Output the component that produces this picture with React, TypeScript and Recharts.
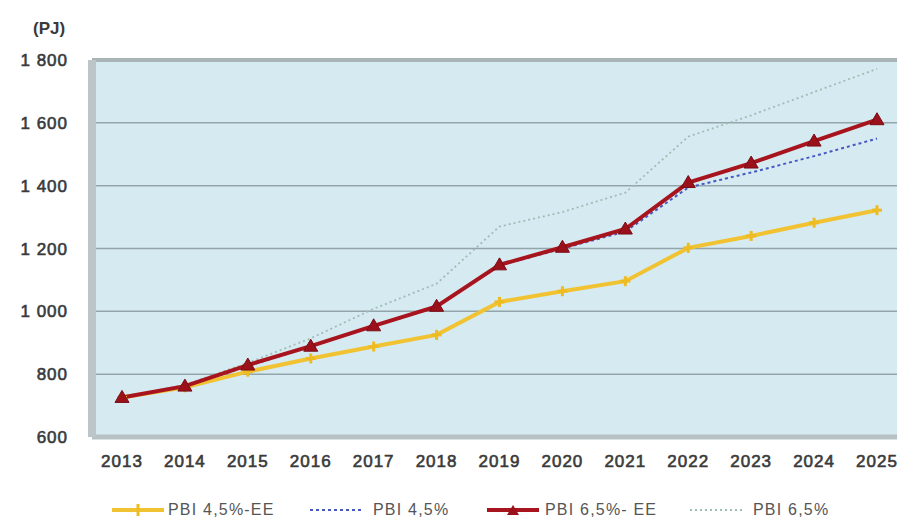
import { LineChart, Line, XAxis, YAxis, CartesianGrid, ReferenceLine, Legend } from "recharts";

const years = ["2013", "2014", "2015", "2016", "2017", "2018", "2019", "2020", "2021", "2022", "2023", "2024", "2025"];
const pbi45EE = [726, 758, 808, 850, 888, 925, 1030, 1064, 1096, 1202, 1240, 1282, 1322];
const pbi45 = [726, 762, 826, 888, 952, 1014, 1146, 1200, 1254, 1394, 1442, 1494, 1550];
const pbi65EE = [726, 762, 829, 889, 954, 1016, 1148, 1204, 1262, 1410, 1472, 1542, 1610];
const pbi65 = [726, 766, 836, 914, 1008, 1088, 1270, 1316, 1378, 1556, 1624, 1698, 1772];
const yTicks = [600, 800, 1000, 1200, 1400, 1600, 1800];

const data = years.map((year, i) => ({
    year,
    pbi45EE: pbi45EE[i],
    pbi45: pbi45[i],
    pbi65EE: pbi65EE[i],
    pbi65: pbi65[i],
}));

const fmt = (v: number) => (v >= 1000 ? `${Math.floor(v / 1000)} ${String(v % 1000).padStart(3, "0")}` : String(v));

const tickStyle = {
    fontFamily: "'Liberation Sans', Arial, sans-serif",
    fontSize: 17,
    fontWeight: 400,
    fill: "#3a3a3a",
    stroke: "#3a3a3a",
    strokeWidth: 0.6,
    letterSpacing: 1,
};

const YELLOW = "#F1C232";
const RED = "#A8141E";
const BLUE = "#4758C0";
const GREY = "#9FBDB3";

const Triangle = (props: any) => {
    const { cx, cy } = props;
    if (cx == null || cy == null) return null;
    return <path d={`M${cx},${cy - 7} L${cx + 7},${cy + 5} L${cx - 7},${cy + 5} Z`} fill="#9A111B" stroke="#7a0c14" strokeWidth={1} />;
};

const Plus = (props: any) => {
    const { cx, cy } = props;
    if (cx == null || cy == null) return null;
    return (
        <g stroke="#EDBB22" strokeWidth={3}>
            <line x1={cx - 5} y1={cy} x2={cx + 5} y2={cy} />
            <line x1={cx} y1={cy - 5} x2={cx} y2={cy + 5} />
        </g>
    );
};

const legendItems = [
    { label: "PBI 4,5%-EE", left: 112, text: 168, color: YELLOW, width: 4, dash: undefined, mark: "plus" },
    { label: "PBI 4,5%", left: 310, text: 373, color: BLUE, width: 2, dash: "3 3", mark: "" },
    { label: "PBI 6,5%- EE", left: 487, text: 545, color: RED, width: 4, dash: undefined, mark: "tri" },
    { label: "PBI 6,5%", left: 690, text: 753, color: GREY, width: 2, dash: "2 3", mark: "" },
];

const ChartLegend = () => (
    <div style={{ position: "relative", width: 904, height: 24 }}>
        {legendItems.map((it) => (
            <div key={it.label}>
                <svg style={{ position: "absolute", left: it.left, top: 2 }} width={54} height={20}>
                    <line x1={0} y1={10} x2={52} y2={10} stroke={it.color} strokeWidth={it.width} strokeDasharray={it.dash} />
                    {it.mark === "plus" && <line x1={26} y1={4} x2={26} y2={16} stroke="#EDBB22" strokeWidth={3} />}
                    {it.mark === "tri" && <path d="M26,5 L32,15 L20,15 Z" fill="#9A111B" />}
                </svg>
                <span
                    style={{
                        position: "absolute",
                        left: it.text,
                        top: 0,
                        fontFamily: "'Liberation Sans', Arial, sans-serif",
                        fontSize: 16,
                        letterSpacing: 1.2,
                        color: "#555",
                        lineHeight: "24px",
                        whiteSpace: "nowrap",
                    }}
                >
                    {it.label}
                </span>
            </div>
        ))}
    </div>
);

export default function App() {
    return (
        <div style={{ position: "absolute", left: 0, top: 0, width: 904, height: 522, background: "#fff" }}>
            <div
                style={{
                    position: "absolute",
                    left: 33,
                    top: 19,
                    fontFamily: "'Liberation Sans', Arial, sans-serif",
                    fontWeight: 700,
                    fontSize: 17,
                    color: "#3a3a3a",
                }}
            >
                (PJ)
            </div>
            <LineChart width={904} height={522} data={data} margin={{ top: 60, right: 7, bottom: 0, left: 0 }}>
                <CartesianGrid vertical={false} fill="#D6EAF2" stroke="#93A5AA" strokeWidth={1.5} />
                <XAxis
                    dataKey="year"
                    padding={{ left: 30, right: 20 }}
                    height={85}
                    tickLine={false}
                    tickSize={0}
                    tickMargin={18}
                    axisLine={{ stroke: "#B7C1C4", strokeWidth: 5 }}
                    tick={tickStyle}
                    interval={0}
                />
                <YAxis
                    width={92}
                    domain={[600, 1800]}
                    ticks={yTicks}
                    tickFormatter={fmt}
                    tickLine={false}
                    tickSize={0}
                    tickMargin={24}
                    axisLine={{ stroke: "#BCC5C8", strokeWidth: 8 }}
                    tick={tickStyle}
                />
                <ReferenceLine y={1800} stroke="#A9B4B7" strokeWidth={4} />
                <Line dataKey="pbi65" name="PBI 6,5%" stroke={GREY} strokeWidth={1.8} strokeDasharray="2 3" dot={false} isAnimationActive={false} />
                <Line dataKey="pbi45" name="PBI 4,5%" stroke={BLUE} strokeWidth={2} strokeDasharray="3 3" dot={false} isAnimationActive={false} />
                <Line dataKey="pbi45EE" name="PBI 4,5%-EE" stroke={YELLOW} strokeWidth={4} dot={<Plus />} isAnimationActive={false} />
                <Line dataKey="pbi65EE" name="PBI 6,5%- EE" stroke={RED} strokeWidth={4} dot={<Triangle />} isAnimationActive={false} />
                <Legend
                    layout="horizontal"
                    verticalAlign="middle"
                    align="center"
                    wrapperStyle={{ position: "absolute", left: 0, top: 498, width: 904 }}
                    content={() => <ChartLegend />}
                />
            </LineChart>
        </div>
    );
}
